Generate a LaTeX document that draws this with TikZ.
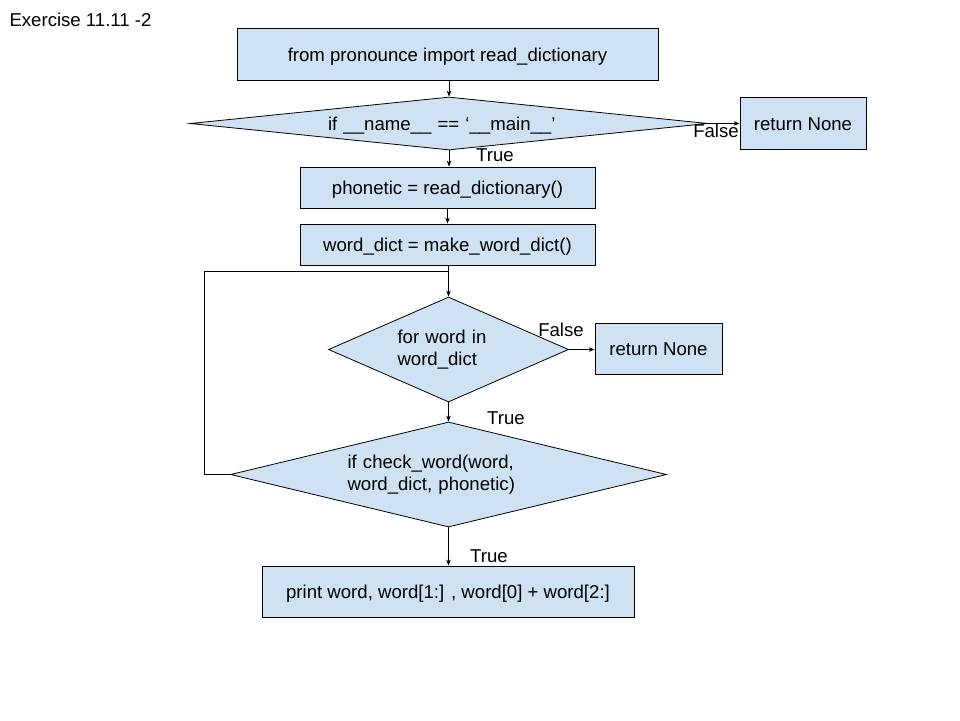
\documentclass[tikz,border=0pt]{standalone}
\usepackage{fontspec}
\setmainfont{Liberation Sans}
\usetikzlibrary{shapes.geometric,arrows.meta}
\definecolor{boxblue}{HTML}{CFE2F3}
\begin{document}
\begin{tikzpicture}[x=1pt,y=-1pt,
  every node/.style={font=\fontsize{18.6}{22}\selectfont},
  procbox/.style={draw=black,line width=0.8pt,fill=boxblue,rectangle,inner sep=0pt,anchor=center,text height=14pt,text depth=0pt},
  decide/.style={draw=black,line width=0.8pt,fill=boxblue,diamond,inner sep=0pt,anchor=center},
  flow/.style={line width=0.8pt,-{Stealth[length=6pt,width=4.5pt]}},
  plain/.style={line width=0.8pt},
  lbl/.style={inner sep=0pt,anchor=center}]
\useasboundingbox (0,0) rectangle (960,720);
\fill[white] (0,0) rectangle (960,720);

\node[lbl] (title) at (80.5,20) {Exercise 11.11 -2};

\node[procbox,minimum width=421pt,minimum height=52pt] (imp) at (447.5,54) {from pronounce import read\_dictionary};
\node[decide,minimum width=518pt,minimum height=53pt,aspect=9.8,text width=242pt,align=left,text height=14pt,text depth=0pt] (d1) at (449,123.5) {if \_\_name\_\_ == ‘\_\_main\_\_’};
\node[procbox,minimum width=126pt,minimum height=52pt] (rn1) at (803,123) {return None};
\node[procbox,minimum width=295pt,minimum height=41pt] (ph) at (447.5,187.5) {phonetic = read\_dictionary()};
\node[procbox,minimum width=295pt,minimum height=41pt] (wd) at (447.5,244.5) {word\_dict = make\_word\_dict()};
\node[decide,minimum width=240pt,minimum height=105pt,aspect=2.3,text width=102pt,align=left] (d2) at (448.5,349.5) {for word in\\word\_dict};
\node[procbox,minimum width=127pt,minimum height=51pt] (rn2) at (658.5,348.5) {return None};
\node[decide,minimum width=436pt,minimum height=105pt,aspect=4.15,text width=202pt,align=left] (d3) at (448.5,474.5) {if check\_word(word,\\word\_dict, phonetic)};
\node[procbox,minimum width=372pt,minimum height=51pt] (pr) at (448,591.5) {print word, word[1:] , word[0] + word[2:]};

\coordinate (loopc) at (204,271);
\coordinate (join) at (448.5,271);

\draw[flow] (imp.south -| d1.north) -- (d1.north);
\draw[flow] (d1.east) -- (rn1.west |- d1.east);
\draw[flow] (d1.south) -- (d1.south |- ph.north);
\draw[flow] (ph.south -| wd.north) -- (wd.north);
\draw[flow] (wd.south -| d2.north) -- (d2.north);
\draw[flow] (d2.east) -- (rn2.west |- d2.east);
\draw[flow] (d2.south) -- (d3.north);
\draw[flow] (d3.south) -- (d3.south |- pr.north);
\draw[plain] (d3.west) -| (loopc) -- (join);

\node[lbl] (f1) at (716,131) {False};
\node[lbl] (t1) at (495,155) {True};
\node[lbl] (f2) at (561,330) {False};
\node[lbl] (t2) at (506,418) {True};
\node[lbl] (t3) at (489,556) {True};
\end{tikzpicture}
\end{document}
